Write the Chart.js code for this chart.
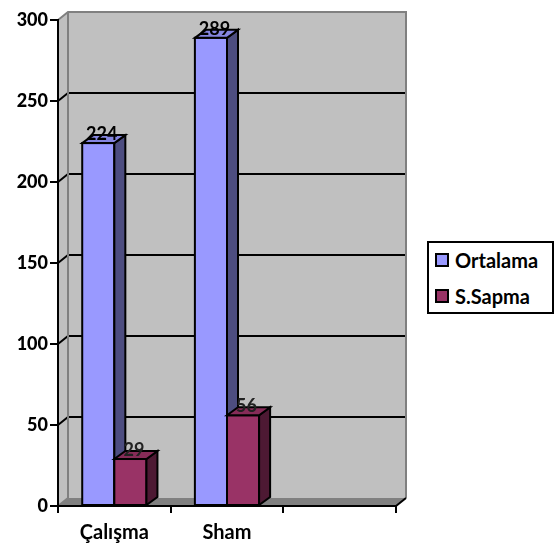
<!DOCTYPE html>
<html>
<head>
<meta charset="utf-8">
<script src="https://cdn.jsdelivr.net/npm/chart.js@4/dist/chart.umd.min.js"></script>
<style>
  html, body { margin: 0; padding: 0; background: #fff; }
  #wrap { position: relative; width: 554px; height: 547px; }
  #legend {
    position: absolute; left: 427px; top: 241px; width: 127px; height: 73px;
    box-sizing: border-box; border: 2px solid #000; background: #fff;
    font: bold 20px Lato, sans-serif; color: #000;
  }
  .item { position: absolute; left: 0; height: 24px; line-height: 24px; white-space: nowrap; }
  .sw { position: absolute; left: 6px; top: 5px; width: 14px; height: 14px; box-sizing: border-box; border: 2px solid #000; }
  .lbl { position: absolute; left: 26px; top: 0; }
</style>
</head>
<body>
<div id="wrap">
  <canvas id="c"></canvas>
  <div id="legend"></div>
</div>
<script>
// Categories and series values
const categories = ['Çalışma', 'Sham', ''];
const ortalama = [224, 289, null];
const sSapma = [29, 56, null];
const seriesNames = ['Ortalama', 'S.Sapma'];

// Face colours per series: front, side, top
const faceColors = [
  { front: '#9999ff', side: '#4d4d80', top: '#8585e0' },
  { front: '#993366', side: '#4d1933', top: '#862c58' }
];

Chart.defaults.font.family = "Lato, sans-serif";

// Depth offsets for the walls and for the bars
const WALL = { dx: 10, dy: -8 };
const BAR = { dx: 11, dy: -8 };

const wallsPlugin = {
  id: 'walls3d',
  beforeDraw(chart) {
    const { ctx, chartArea: a, scales: { y } } = chart;
    const { dx, dy } = WALL;
    ctx.save();
    // side wall
    ctx.fillStyle = '#c0c0c0';
    ctx.beginPath();
    ctx.moveTo(a.left, a.top);
    ctx.lineTo(a.left + dx, a.top + dy);
    ctx.lineTo(a.left + dx, a.bottom + dy);
    ctx.lineTo(a.left, a.bottom);
    ctx.closePath();
    ctx.fill();
    // back wall
    ctx.fillRect(a.left + dx, a.top + dy, a.right - a.left, a.bottom - a.top);
    // floor
    ctx.fillStyle = '#808080';
    ctx.beginPath();
    ctx.moveTo(a.left, a.bottom);
    ctx.lineTo(a.left + dx, a.bottom + dy);
    ctx.lineTo(a.right + dx, a.bottom + dy);
    ctx.lineTo(a.right, a.bottom);
    ctx.closePath();
    ctx.fill();

    // gridlines on the back wall and side wall
    ctx.lineWidth = 2;
    ctx.strokeStyle = '#000';
    y.ticks.forEach(t => {
      if (t.value <= y.min || t.value >= y.max) return;
      const py = y.getPixelForValue(t.value);
      ctx.beginPath();
      ctx.moveTo(a.left, py);
      ctx.lineTo(a.left + dx, py + dy);
      ctx.lineTo(a.right + dx, py + dy);
      ctx.stroke();
    });

    // wall edges
    ctx.strokeStyle = '#808080';
    ctx.beginPath();
    ctx.moveTo(a.left, a.top);
    ctx.lineTo(a.left + dx, a.top + dy);
    ctx.lineTo(a.right + dx, a.top + dy);
    ctx.lineTo(a.right + dx, a.bottom + dy);
    ctx.moveTo(a.left + dx, a.top + dy);
    ctx.lineTo(a.left + dx, a.bottom + dy);
    ctx.moveTo(a.left, a.bottom);
    ctx.lineTo(a.left + dx, a.bottom + dy);
    ctx.stroke();
    ctx.strokeStyle = '#000';
    ctx.beginPath();
    ctx.moveTo(a.right, a.bottom);
    ctx.lineTo(a.right + dx, a.bottom + dy);
    ctx.stroke();
    ctx.restore();
  },
  afterDatasetsDraw(chart) {
    const { ctx } = chart;
    const { dx, dy } = BAR;
    const labels = [];
    ctx.save();
    ctx.lineWidth = 2;
    ctx.strokeStyle = '#000';
    ctx.lineJoin = 'miter';
    categories.forEach((c, i) => {
      chart.data.datasets.forEach((ds, d) => {
        const v = ds.data[i];
        if (v === null || v === undefined) return;
        const el = chart.getDatasetMeta(d).data[i];
        const l = el.x - el.width / 2, r = el.x + el.width / 2;
        const t = el.y, b = el.base;
        const col = faceColors[d];
        // front face
        ctx.fillStyle = col.front;
        ctx.fillRect(l, t, r - l, b - t);
        ctx.strokeRect(l, t, r - l, b - t);
        // side face
        ctx.fillStyle = col.side;
        ctx.beginPath();
        ctx.moveTo(r, t);
        ctx.lineTo(r + dx, t + dy);
        ctx.lineTo(r + dx, b + dy);
        ctx.lineTo(r, b);
        ctx.closePath();
        ctx.fill();
        ctx.stroke();
        // top face
        ctx.fillStyle = col.top;
        ctx.beginPath();
        ctx.moveTo(l, t);
        ctx.lineTo(l + dx, t + dy);
        ctx.lineTo(r + dx, t + dy);
        ctx.lineTo(r, t);
        ctx.closePath();
        ctx.fill();
        ctx.stroke();
        labels.push({ text: String(v), x: el.x + dx / 2 - 2, y: t + dy - 1, dark: d === 1 });
      });
    });
    // value labels
    ctx.font = "bold 18px Lato, sans-serif";
    ctx.textAlign = 'center';
    ctx.textBaseline = 'middle';
    labels.forEach(lb => {
      ctx.fillStyle = lb.dark ? '#222' : '#000';
      ctx.fillText(lb.text, lb.x, lb.y);
    });
    ctx.restore();
  }
};

const chart = new Chart(document.getElementById('c'), {
  type: 'bar',
  data: {
    labels: categories,
    datasets: [
      { label: seriesNames[0], data: ortalama, backgroundColor: faceColors[0].front, borderWidth: 0 },
      { label: seriesNames[1], data: sSapma, backgroundColor: faceColors[1].front, borderWidth: 0 }
    ]
  },
  options: {
    responsive: true,
    maintainAspectRatio: false,
    animation: false,
    layout: { padding: { top: 20, right: 158, bottom: 0, left: 0 } },
    datasets: { bar: { categoryPercentage: 0.57, barPercentage: 1.0 } },
    plugins: { legend: { display: false }, tooltip: { enabled: false } },
    scales: {
      x: {
        offset: true,
        grid: { offset: true, drawOnChartArea: false, drawTicks: true, tickLength: 7, color: '#000', lineWidth: 2 },
        border: { color: '#000', width: 2 },
        ticks: { color: '#000', font: { size: 20, weight: 'bold' }, padding: 8, maxRotation: 0, autoSkip: false },
        afterFit(s) { s.height = 41; }
      },
      y: {
        min: 0,
        max: 300,
        grid: { drawOnChartArea: false, drawTicks: true, tickLength: 8, color: '#000', lineWidth: 2 },
        border: { color: '#000', width: 2 },
        ticks: { stepSize: 50, color: '#000', font: { size: 18, weight: 900 }, padding: 2 },
        afterFit(s) { s.width = 58; }
      }
    }
  },
  plugins: [wallsPlugin]
});

// Legend built from the series names and colours
const legend = document.getElementById('legend');
seriesNames.forEach((name, i) => {
  const item = document.createElement('div');
  item.className = 'item';
  item.style.top = (5 + i * 36) + 'px';
  const sw = document.createElement('span');
  sw.className = 'sw';
  sw.style.background = faceColors[i].front;
  const lbl = document.createElement('span');
  lbl.className = 'lbl';
  lbl.textContent = name;
  item.appendChild(sw);
  item.appendChild(lbl);
  legend.appendChild(item);
});
</script>
</body>
</html>
